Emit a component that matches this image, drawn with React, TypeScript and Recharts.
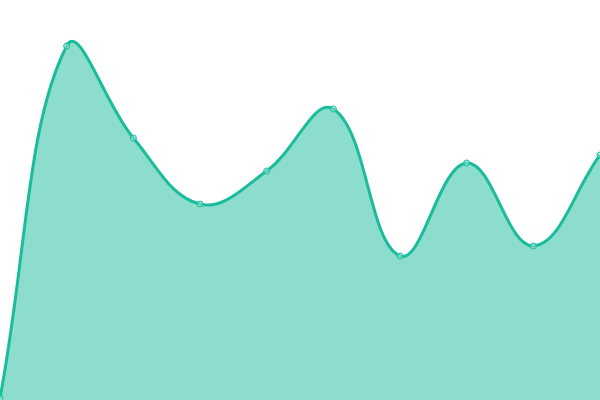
import { AreaChart, Area, XAxis, YAxis } from "recharts";

const labels = ["1", "2", "3", "4", "5", "6", "7", "8", "9", "10"];
const values = [2, 354, 262, 196, 229, 291, 144, 237, 154, 245];

const data = labels.map((label, i) => ({ label, value: values[i] }));

// tension spline (like Chart.js's default line smoothing), as a d3-style curve factory
function tensionCurve(t: number) {
  return (context: any) => {
    let pts: [number, number][] = [];
    let line = NaN;
    return {
      areaStart() {
        line = 0;
      },
      areaEnd() {
        line = NaN;
      },
      lineStart() {
        pts = [];
      },
      point(x: number, y: number) {
        pts.push([+x, +y]);
      },
      lineEnd() {
        const n = pts.length;
        if (n) {
          if (line) context.lineTo(pts[0][0], pts[0][1]);
          else context.moveTo(pts[0][0], pts[0][1]);
          const ctrl = pts.map((cur, i) => {
            const prev = pts[i - 1] || cur;
            const next = pts[i + 1] || cur;
            const d01 = Math.hypot(cur[0] - prev[0], cur[1] - prev[1]);
            const d12 = Math.hypot(next[0] - cur[0], next[1] - cur[1]);
            let s01 = d01 / (d01 + d12);
            let s12 = d12 / (d01 + d12);
            if (isNaN(s01)) s01 = 0;
            if (isNaN(s12)) s12 = 0;
            const fa = t * s01;
            const fb = t * s12;
            const dx = next[0] - prev[0];
            const dy = next[1] - prev[1];
            return {
              px: cur[0] - fa * dx,
              py: cur[1] - fa * dy,
              nx: cur[0] + fb * dx,
              ny: cur[1] + fb * dy,
            };
          });
          for (let i = 1; i < n; i++) {
            context.bezierCurveTo(ctrl[i - 1].nx, ctrl[i - 1].ny, ctrl[i].px, ctrl[i].py, pts[i][0], pts[i][1]);
          }
        }
        if (line || (line !== 0 && n === 1)) context.closePath();
        line = 1 - line;
      },
    };
  };
}

const curve = tensionCurve(0.4);

export default function App() {
  return (
    <div style={{ position: "fixed", left: 0, top: 0, width: 600, height: 400 }}>
      <AreaChart width={600} height={400} data={data} margin={{ left: 0, right: 0, top: 0, bottom: 0 }}>
        <XAxis dataKey="label" hide padding={{ left: 0, right: 0 }} />
        <YAxis hide domain={[0, 400]} />
        <Area
          type={curve as any}
          dataKey="value"
          stroke="#1abc9c"
          strokeWidth={3}
          fill="#1abc9c"
          fillOpacity={0.5}
          dot={{ r: 3, fill: "#9be6d6", stroke: "#1abc9c", strokeWidth: 1 }}
          activeDot={false}
          isAnimationActive={false}
        />
      </AreaChart>
    </div>
  );
}
